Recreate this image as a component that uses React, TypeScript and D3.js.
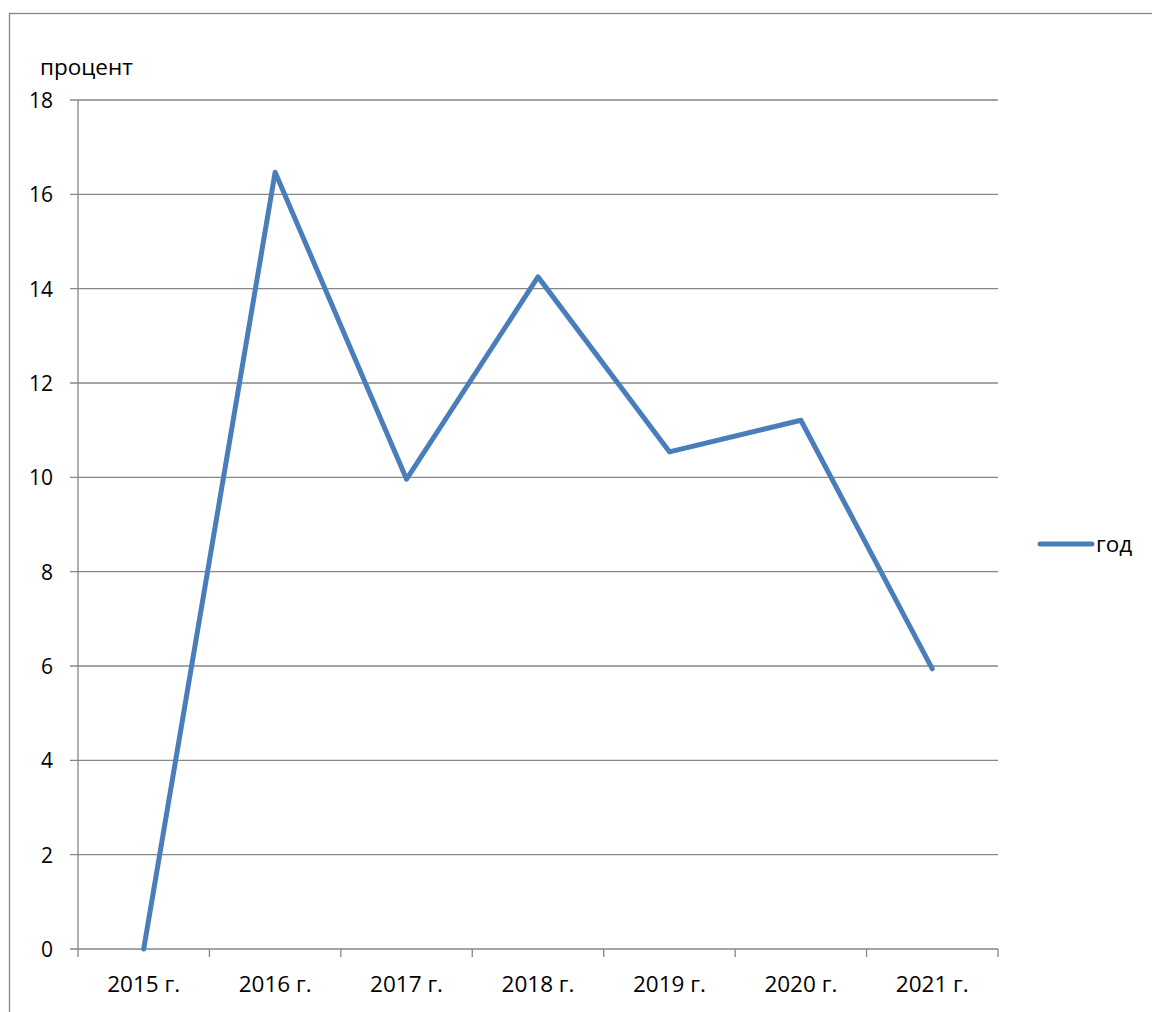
import React from "react";
import * as d3 from "d3";

const categories = ["2015 г.", "2016 г.", "2017 г.", "2018 г.", "2019 г.", "2020 г.", "2021 г."];
const values = [0, 16.47, 9.96, 14.25, 10.54, 11.21, 5.94];
const yTicks = [0, 2, 4, 6, 8, 10, 12, 14, 16, 18];
const seriesName = "год";
const yTitle = "процент";

export default function App() {
  const W = 1152, H = 1012;
  const left = 78, right = 998, top = 100, bottom = 949;
  const x = d3.scaleBand<string>().domain(categories).range([left, right]);
  const y = d3.scaleLinear().domain([0, 18]).range([bottom, top]);
  const line = d3.line<number>()
    .x((_, i) => (x(categories[i]) as number) + x.bandwidth() / 2)
    .y((d) => y(d));
  const font = "'Open Sans', sans-serif";
  const fs = 22.5;
  const axisColor = "#868686";
  const lineColor = "#4a7ebb";
  return (
    <svg width={W} height={H} style={{ position: "absolute", left: 0, top: 0 }} fontFamily={font}>
      <rect x={0} y={0} width={W} height={H} fill="#fff" />
      <rect x={9.5} y={13.5} width={W + 20} height={H + 20} fill="none" stroke={axisColor} strokeWidth={1.3} />
      {yTicks.map((t) => (
        <g key={t}>
          <line x1={70} x2={right} y1={y(t)} y2={y(t)} stroke={axisColor} strokeWidth={1.3} />
          <text x={53} y={y(t) + 8} textAnchor="end" fontSize={21} fill="#000">{t}</text>
        </g>
      ))}
      <line x1={left} x2={left} y1={top} y2={bottom} stroke={axisColor} strokeWidth={1.3} />
      {[...categories.map((c) => x(c) as number), right].map((v, i) => (
        <line key={i} x1={v} x2={v} y1={bottom} y2={bottom + 8} stroke={axisColor} strokeWidth={1.3} />
      ))}
      {categories.map((c) => (
        <text key={c} x={(x(c) as number) + x.bandwidth() / 2} y={992} textAnchor="middle" fontSize={fs} fill="#000">{c}</text>
      ))}
      <text x={40} y={75} fontSize={fs} fill="#000">{yTitle}</text>
      <path d={line(values) || ""} fill="none" stroke={lineColor} strokeWidth={5} strokeLinejoin="round" strokeLinecap="round" />
      <line x1={1040} x2={1092} y1={544} y2={544} stroke={lineColor} strokeWidth={5} strokeLinecap="round" />
      <text x={1096} y={552} fontSize={fs} fill="#000">{seriesName}</text>
    </svg>
  );
}
